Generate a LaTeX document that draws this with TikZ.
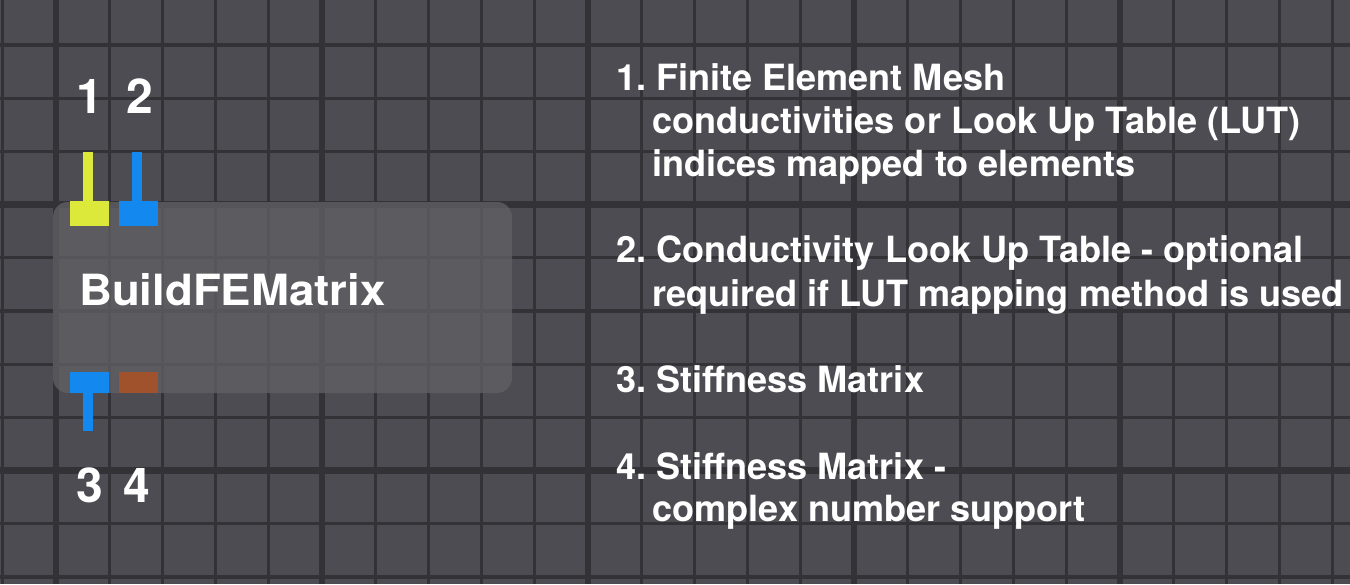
\documentclass[tikz,border=0pt]{standalone}
\usepackage{fontspec}
\setmainfont{TeX Gyre Heros}
\frenchspacing
\definecolor{bgc}{HTML}{4D4C52}
\definecolor{gridc}{HTML}{333237}
\definecolor{boxc}{HTML}{626166}
\definecolor{portyellow}{HTML}{DCE93A}
\definecolor{portblue}{HTML}{1389F0}
\definecolor{portbrown}{HTML}{A0522D}
\tikzset{
  gridline/.style={draw=gridc},
  blockbox/.style={fill=boxc, fill opacity=0.75, rounded corners=15pt},
  numlbl/.style={text=white, font=\fontsize{48}{48}\selectfont\bfseries, anchor=base, inner sep=0pt},
  desc/.style={text=white, font=\fontsize{36.1}{43}\selectfont\bfseries\frenchspacing, anchor=base west, inner sep=0pt},
  titlelbl/.style={text=white, font=\fontsize{43}{43}\selectfont\bfseries, anchor=base west, inner sep=0pt},
}
\begin{document}
\begin{tikzpicture}[x=1pt,y=-1pt]
\useasboundingbox (0,0) rectangle (1350,584);
\fill[bgc] (0,0) rectangle (1350,584);
% grid
\foreach \k in {-1,...,24} {
  \pgfmathtruncatemacro\m{mod(\k+10,5)}
  \pgfmathsetmacro\lw{ifthenelse(\m==0,6.5,3.2)}
  \pgfmathsetmacro\xx{56+53.2*\k}
  \draw[gridline, line width=\lw pt] (\xx,0) -- (\xx,584);
}
\foreach \k in {-4,...,8} {
  \pgfmathtruncatemacro\m{mod(\k+10,5)}
  \pgfmathsetmacro\lw{ifthenelse(\m==0,6.5,3.2)}
  \pgfmathsetmacro\yy{204.5+53.2*\k}
  \draw[gridline, line width=\lw pt] (0,\yy) -- (1350,\yy);
}
% block
\fill[blockbox] (53,202) rectangle (512,393);
\node[titlelbl] (title) at (79,305) {\scalebox{1.06}[1]{BuildFEMatrix}};
% ports
\fill[portyellow] (83,152) rectangle (93,201);
\fill[portyellow] (70,201) rectangle (109,226);
\fill[portblue] (132,152) rectangle (142,201);
\fill[portblue] (119,201) rectangle (158,226);
\fill[portblue] (70,372) rectangle (109,393);
\fill[portblue] (83,393) rectangle (93,431);
\fill[portbrown] (119,372) rectangle (158,393);
% port numbers
\node[numlbl] (n1) at (90,113) {1};
\node[numlbl] (n2) at (139.5,113) {2};
\node[numlbl] (n3) at (89.5,502) {3};
\node[numlbl] (n4) at (137,502) {4};
% descriptions
\node[desc] (d1a) at (616,90) {1. Finite Element Mesh};
\node[desc] (d1b) at (652,133) {conductivities or Look Up Table (LUT)};
\node[desc] (d1c) at (652,176) {indices mapped to elements};
\node[desc] (d2a) at (616,262.7) {2. Conductivity Look Up Table - optional};
\node[desc] (d2b) at (652,306) {required if LUT mapping method is used};
\node[desc] (d3a) at (616,392.7) {3. Stiffness Matrix};
\node[desc] (d4a) at (616,479) {4. Stiffness Matrix -};
\node[desc] (d4b) at (652,521) {complex number support};
\end{tikzpicture}
\end{document}
